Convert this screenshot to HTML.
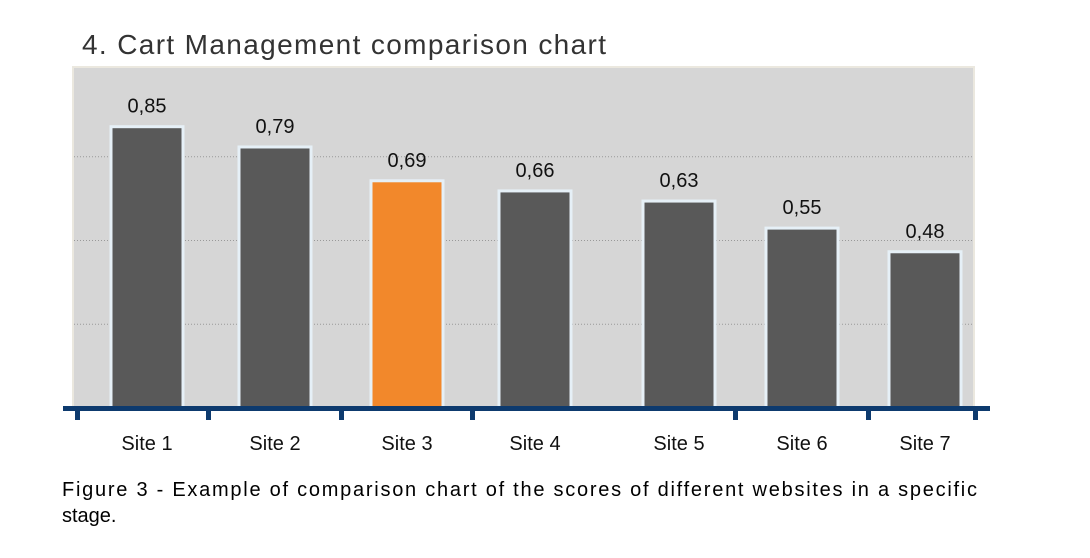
<!DOCTYPE html>
<html><head><meta charset="utf-8"><style>
body{margin:0;background:#fff;width:1090px;height:553px;overflow:hidden;font-family:"Liberation Sans",Arial,sans-serif}
</style></head><body>
<svg width="1090" height="553">
<text x="82" y="54" font-size="28" fill="#333" textLength="524">4. Cart Management comparison chart</text>
<rect x="73" y="67" width="901" height="341" fill="#d6d6d6" stroke="#ebe8df" stroke-width="2"/>
<g id="grid"></g>
<g id="bars"></g>
<rect x="63" y="406" width="927" height="5" fill="#0d3a6e"/>
<g id="ticks"></g>
<text x="62" y="496" font-size="20" fill="#000" textLength="915">Figure 3 - Example of comparison chart of the scores of different websites in a specific</text>
<text x="62" y="522" font-size="20" fill="#000">stage.</text>
</svg>
<script>
const categories=["Site 1","Site 2","Site 3","Site 4","Site 5","Site 6","Site 7"];
const values=[0.85,0.79,0.69,0.66,0.63,0.55,0.48];
const highlight=[false,false,true,false,false,false,false];
const gridValues=[0.25,0.5,0.75];
const NS="http://www.w3.org/2000/svg";
const base=408;
const centers=[147,275,407,535,679,802,925];
const tickXs=[77,208,341,472,735,868,975];
function yScale(v){return base-(v*338-6);}
const grid=document.getElementById('grid');
gridValues.forEach(g=>{
 const l=document.createElementNS(NS,'line');
 const y=base-g*335;
 l.setAttribute('x1',74);l.setAttribute('x2',973);l.setAttribute('y1',y);l.setAttribute('y2',y);
 l.setAttribute('stroke','#999');l.setAttribute('stroke-dasharray','1 2');
 
 
 grid.appendChild(l);
});
const bars=document.getElementById('bars');
const ticks=document.getElementById('ticks');
categories.forEach((c,i)=>{
 const cx=centers[i], w=72, y=yScale(values[i]);
 const r=document.createElementNS(NS,'rect');
 r.setAttribute('x',cx-w/2);r.setAttribute('y',y);r.setAttribute('width',w);r.setAttribute('height',base-y);
 r.setAttribute('fill',highlight[i]?'#f2882b':'#595959');r.setAttribute('stroke','#e6f0f7');r.setAttribute('stroke-width','3');
 
 
 bars.appendChild(r);
 const t=document.createElementNS(NS,'text');
 t.setAttribute('x',cx);t.setAttribute('y',y-14);t.setAttribute('text-anchor','middle');t.setAttribute('font-size','20');t.setAttribute('fill','#111');
 t.textContent=values[i].toFixed(2).replace('.',',');
 
 
 bars.appendChild(t);
 const lb=document.createElementNS(NS,'text');
 lb.setAttribute('x',cx);lb.setAttribute('y',450);lb.setAttribute('text-anchor','middle');lb.setAttribute('font-size','20');lb.setAttribute('fill','#111');
 lb.textContent=c;
 
 
 ticks.appendChild(lb);
});
tickXs.forEach(tx=>{
 const k=document.createElementNS(NS,'rect');
 k.setAttribute('x',tx-2);k.setAttribute('y',410);k.setAttribute('width',5);k.setAttribute('height',10);k.setAttribute('fill','#0d3a6e');
 
 
 ticks.appendChild(k);
});
</script>
</body></html>
